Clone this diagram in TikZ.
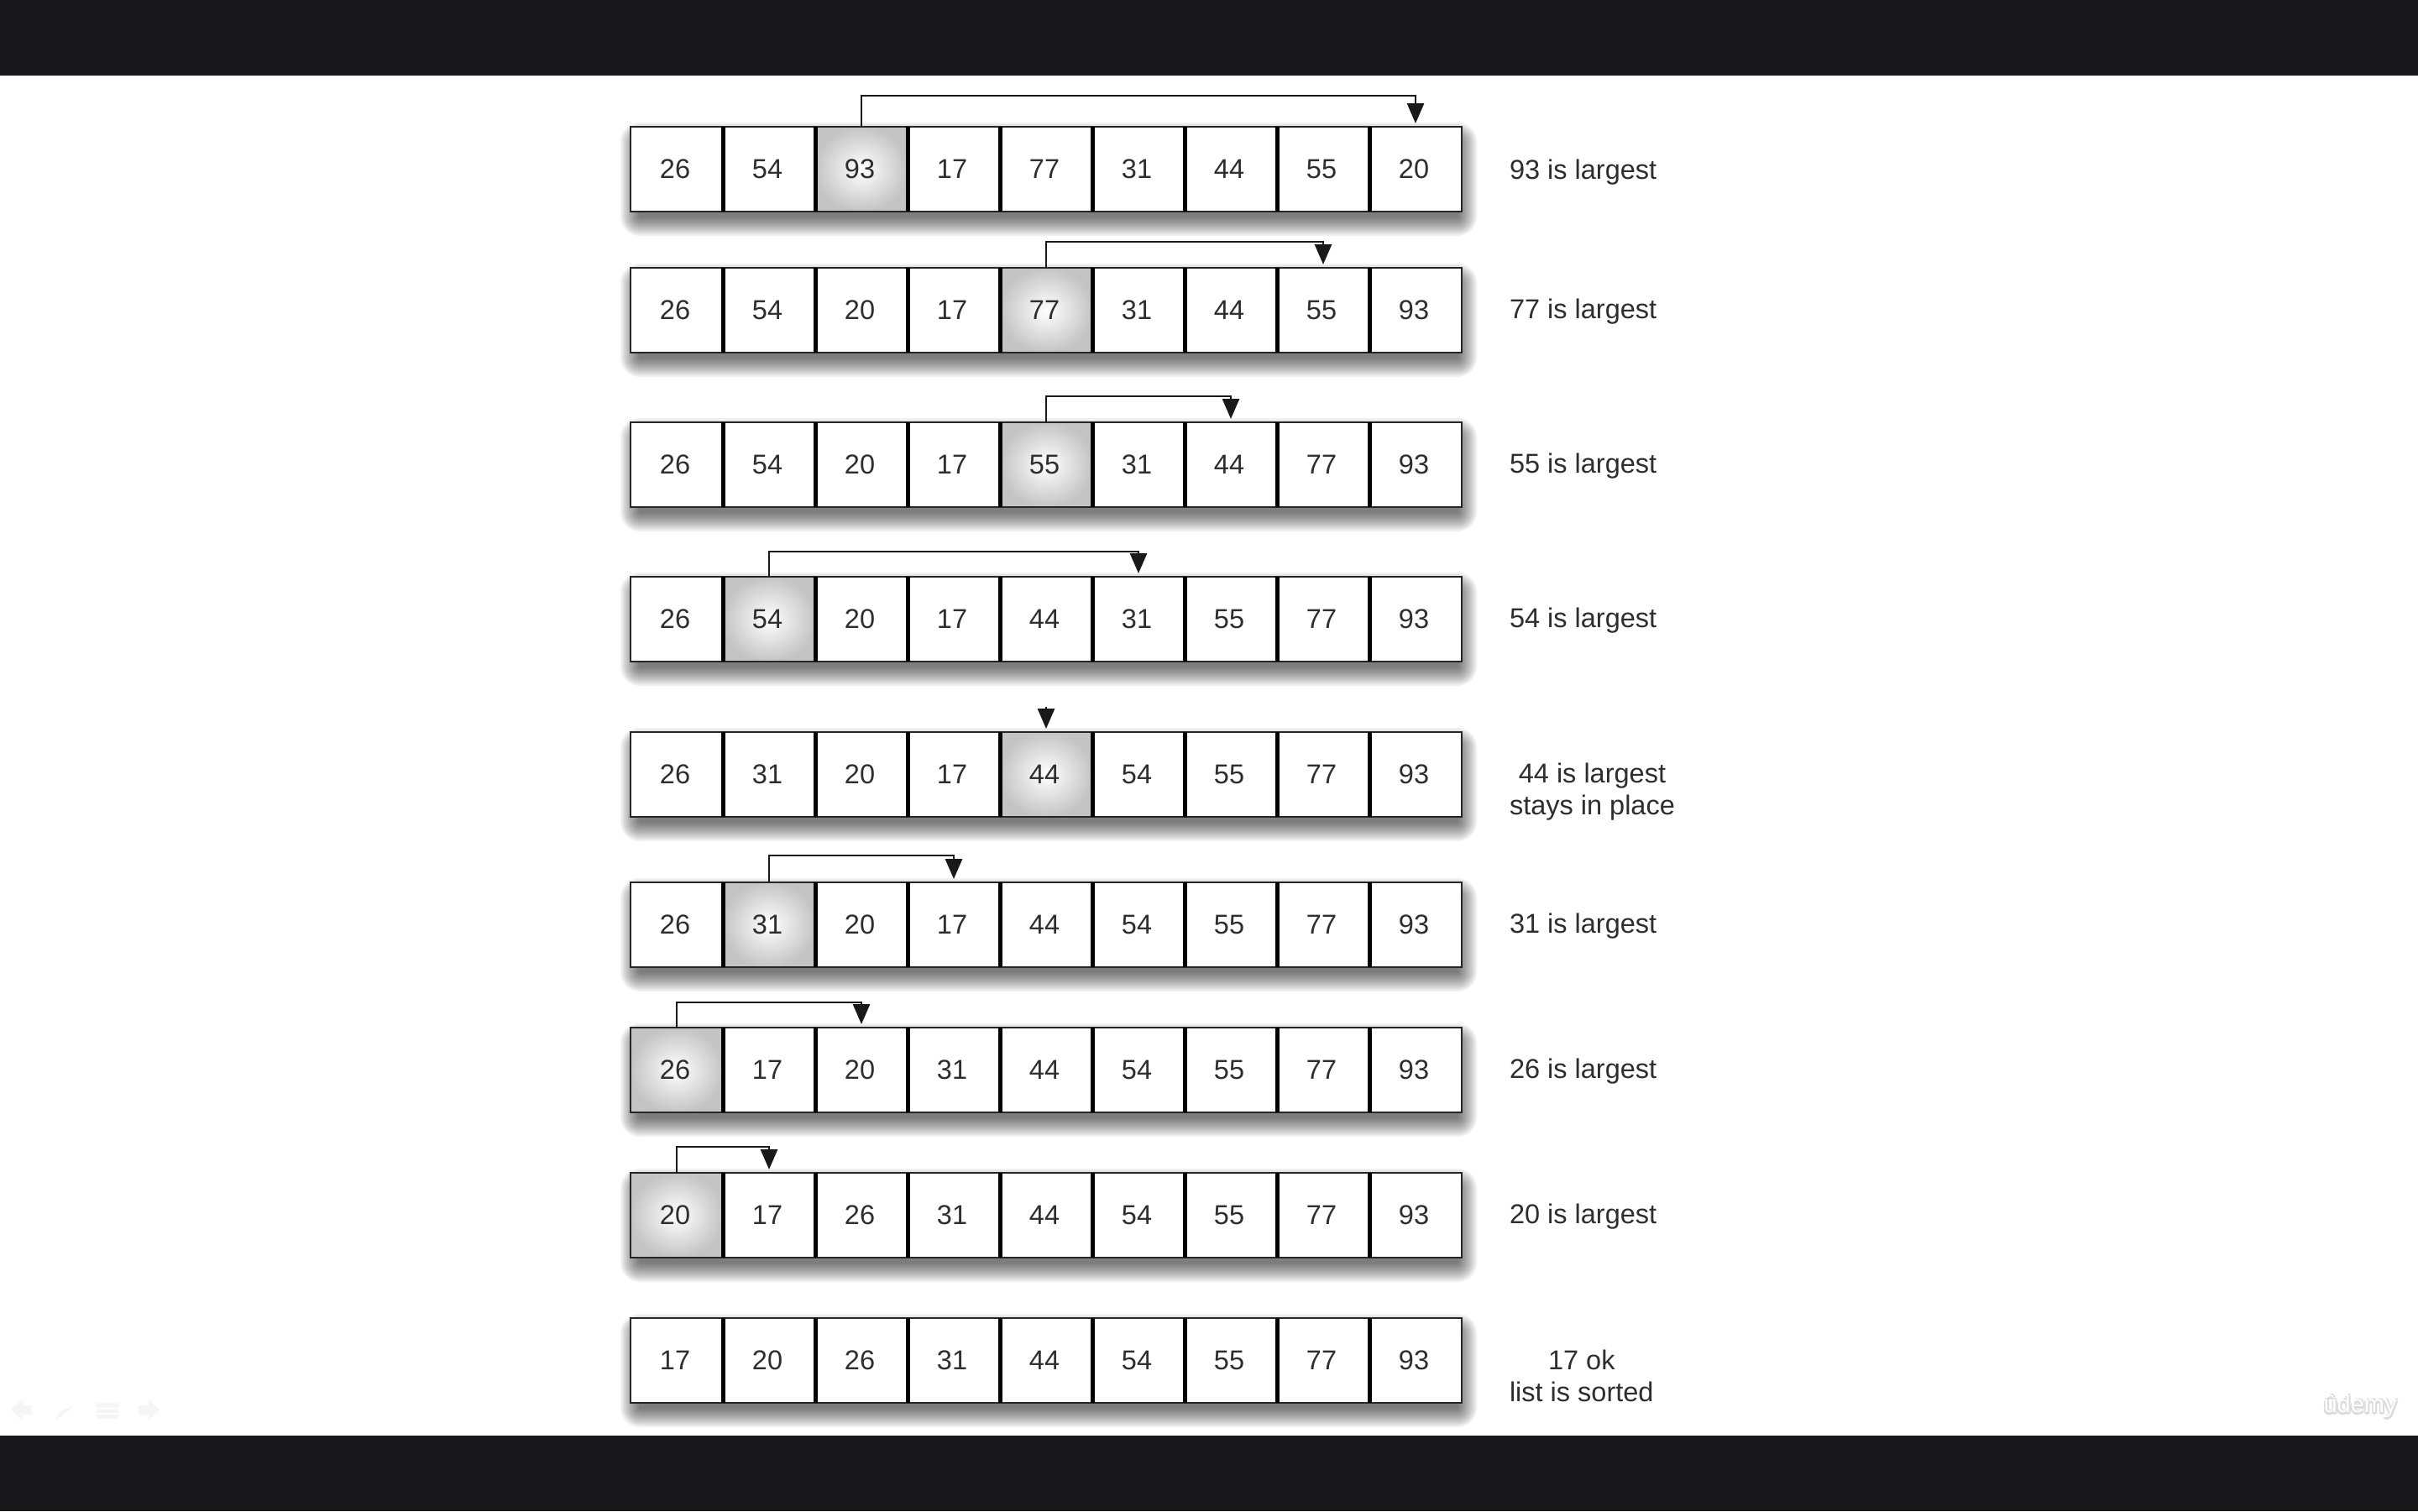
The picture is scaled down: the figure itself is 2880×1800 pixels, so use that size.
\documentclass[tikz,border=0pt]{standalone}
\usepackage{fontspec}
\setmainfont{Liberation Sans}
\usetikzlibrary{arrows.meta,calc}
\definecolor{barcol}{HTML}{18181D}
\definecolor{inkcol}{HTML}{2E2E2E}
\tikzset{
  x=1pt,y=-1pt,
  cell/.style={draw=black!85,line width=2.8pt,minimum width=110pt,minimum height=101pt,inner sep=0pt,outer sep=0pt,anchor=north west,fill=white,text=inkcol,font=\fontsize{32.5}{36}\selectfont},
  hot/.style={cell,inner color=white,outer color=black!23},
  divider/.style={draw=black,line width=5pt},
  sidelabel/.style={inner sep=0pt,outer sep=0pt,anchor=west,text=inkcol,font=\fontsize{32.5}{38.5}\selectfont},
  move/.style={draw=black!90,line width=2.8pt,-{Triangle[length=24pt,width=20pt]},shorten >=4pt},
  bar/.style={fill=barcol,draw=none},
  nav/.style={fill=black!4,draw=none}
}
% #1 = row top
\newcommand{\rowshadow}[1]{%
  \foreach \g in {15,13,...,-7}{
    \fill[black,opacity=.055,rounded corners={max(\g+8,1)*1pt}] (754-\g,#1+10-\g) rectangle (1744+\g,#1+115+\g);
  }
}
\begin{document}
\begin{tikzpicture}
\useasboundingbox (0,0) rectangle (2880,1800);
\fill[white] (0,0) rectangle (2880,1800);
\fill[bar] (0,0) rectangle (2880,90);
\fill[bar] (0,1710) rectangle (2880,1800);
% rows: index / top y / hot column / values
\foreach \r/\t/\h/\vals in {
 1/151/3/{26,54,93,17,77,31,44,55,20},
 2/319/5/{26,54,20,17,77,31,44,55,93},
 3/503/5/{26,54,20,17,55,31,44,77,93},
 4/687/2/{26,54,20,17,44,31,55,77,93},
 5/872/5/{26,31,20,17,44,54,55,77,93},
 6/1051/2/{26,31,20,17,44,54,55,77,93},
 7/1224/1/{26,17,20,31,44,54,55,77,93},
 8/1397/1/{20,17,26,31,44,54,55,77,93},
 9/1570/0/{17,20,26,31,44,54,55,77,93}}{
  \rowshadow{\t}
  \foreach \v [count=\c] in \vals {
    \ifnum\c=\h\relax
      \node[hot] (r\r c\c) at ({751+(\c-1)*110},\t) {\v\kern4pt};
    \else
      \node[cell] (r\r c\c) at ({751+(\c-1)*110},\t) {\v\kern4pt};
    \fi
  }
  \foreach \c in {1,...,8}{
    \draw[divider] (r\r c\c.north east) -- (r\r c\c.south east);
  }
}
% connectors
\foreach \r/\a/\b/\lev in {1/3/9/114,2/5/8/288,3/5/7/472,4/2/6/657,6/2/4/1019,7/1/3/1194,8/1/2/1366}{
  \coordinate (t\r a) at (r\r c\a.north |- 0,\lev);
  \coordinate (t\r b) at (r\r c\b.north |- 0,\lev);
  \draw[move] (r\r c\a.north) -- (t\r a) -- (t\r b) -- (r\r c\b.north);
}
\coordinate (t5) at ($(r5c5.north)+(0,-30)$);
\draw[move] (t5) -- (r5c5.north);
% labels
\node[sidelabel] (l1) at (1798,205) {93 is largest};
\node[sidelabel] (l2) at (1798,371) {77 is largest};
\node[sidelabel] (l3) at (1798,555) {55 is largest};
\node[sidelabel] (l4) at (1798,739) {54 is largest};
\node[sidelabel,align=center] (l5) at (1798,943) {44 is largest\\stays in place};
\node[sidelabel] (l6) at (1798,1103) {31 is largest};
\node[sidelabel] (l7) at (1798,1276) {26 is largest};
\node[sidelabel] (l8) at (1798,1449) {20 is largest};
\node[sidelabel,align=center] (l9) at (1798,1639) {17 ok\\list is sorted};
% faint slide controls
\fill[nav] (13,1679) -- (27,1667) -- (27,1674) -- (38,1674) -- (38,1685) -- (27,1685) -- (27,1692) -- cycle;
\fill[nav] (66,1692) -- (70,1682) -- (88,1674) -- (72,1688) -- cycle;
\fill[nav] (115,1671) rectangle (141,1690);
\fill[white] (115,1676.5) rectangle (141,1678) (115,1683) rectangle (141,1684.5);
\fill[nav] (165,1674) -- (177,1674) -- (177,1667) -- (190,1679) -- (177,1692) -- (177,1685) -- (165,1685) -- cycle;
% watermark
\foreach \dx/\dy/\wn in {2/2/a,-1.5/1.5/b,1.5/-1/c,0/3/d}{
  \node[inner sep=0pt,anchor=center,text=black!14,font=\fontsize{29}{30}\selectfont] (wm\wn) at (2811+\dx,1675+\dy) {ûdemy};
}
\node[inner sep=0pt,anchor=center,text=white,font=\fontsize{29}{30}\selectfont] (wm) at (2811,1675) {ûdemy};
\end{tikzpicture}
\end{document}
